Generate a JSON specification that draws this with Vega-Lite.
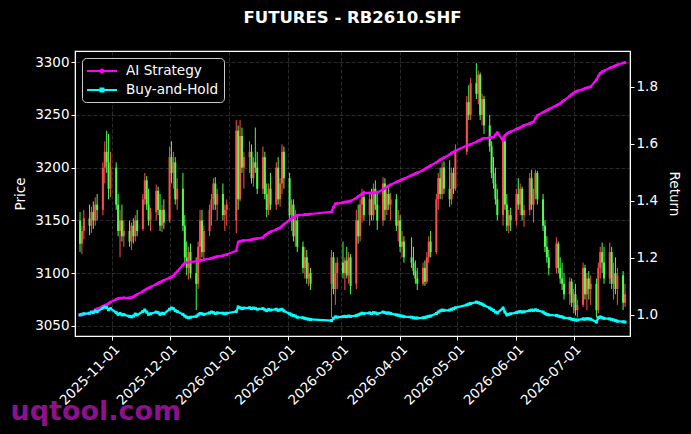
{
"$schema":"https://vega.github.io/schema/vega-lite/v6.json",
"width":555,"height":285,
"autosize":{"type":"none"},
"padding":{"left":75,"top":51,"right":61,"bottom":98},
"background":"#000000",
"title":{"text":"FUTURES - RB2610.SHF","color":"#ffffff","font":"DejaVu Sans","fontSize":16.5,"fontWeight":"bold","anchor":"middle","offset":25},
"config":{
 "view":{"stroke":"#ffffff","strokeWidth":1.2},
 "axis":{"labelColor":"#ffffff","tickColor":"#ffffff","domainColor":"#ffffff","titleColor":"#ffffff","labelFont":"DejaVu Sans","titleFont":"DejaVu Sans","labelFontSize":13.5,"titleFontSize":13.5,"titleFontWeight":"normal","tickSize":4,"gridColor":"#808080","gridOpacity":0.55,"gridDash":[4,2],"gridWidth":0.6}
},
"data":{"values":[
{"d":"2025-10-15","o":3150,"h":3158,"l":3120,"c":3128,"AI Strategy":1.000,"Buy-and-Hold":1.000},
{"d":"2025-10-16","o":3128,"h":3145,"l":3118,"c":3140,"AI Strategy":1.000,"Buy-and-Hold":1.002},
{"d":"2025-10-17","o":3140,"h":3160,"l":3132,"c":3152,"AI Strategy":1.002,"Buy-and-Hold":1.004},
{"d":"2025-10-20","o":3152,"h":3165,"l":3136,"c":3145,"AI Strategy":1.004,"Buy-and-Hold":1.006},
{"d":"2025-10-21","o":3145,"h":3163,"l":3138,"c":3158,"AI Strategy":1.008,"Buy-and-Hold":1.010},
{"d":"2025-10-22","o":3158,"h":3168,"l":3142,"c":3150,"AI Strategy":1.012,"Buy-and-Hold":1.008},
{"d":"2025-10-23","o":3150,"h":3172,"l":3145,"c":3165,"AI Strategy":1.018,"Buy-and-Hold":1.014},
{"d":"2025-10-24","o":3165,"h":3175,"l":3150,"c":3160,"AI Strategy":1.022,"Buy-and-Hold":1.012},
{"d":"2025-10-27","o":3160,"h":3205,"l":3155,"c":3200,"AI Strategy":1.030,"Buy-and-Hold":1.024},
{"d":"2025-10-28","o":3200,"h":3225,"l":3185,"c":3215,"AI Strategy":1.034,"Buy-and-Hold":1.028},
{"d":"2025-10-29","o":3215,"h":3235,"l":3195,"c":3205,"AI Strategy":1.036,"Buy-and-Hold":1.026},
{"d":"2025-10-30","o":3205,"h":3232,"l":3170,"c":3180,"AI Strategy":1.040,"Buy-and-Hold":1.018},
{"d":"2025-10-31","o":3180,"h":3215,"l":3172,"c":3200,"AI Strategy":1.045,"Buy-and-Hold":1.022},
{"d":"2025-11-03","o":3200,"h":3205,"l":3160,"c":3165,"AI Strategy":1.055,"Buy-and-Hold":1.008},
{"d":"2025-11-04","o":3165,"h":3175,"l":3135,"c":3140,"AI Strategy":1.058,"Buy-and-Hold":1.002},
{"d":"2025-11-05","o":3140,"h":3160,"l":3115,"c":3150,"AI Strategy":1.059,"Buy-and-Hold":1.005},
{"d":"2025-11-06","o":3150,"h":3165,"l":3130,"c":3135,"AI Strategy":1.059,"Buy-and-Hold":1.000},
{"d":"2025-11-07","o":3135,"h":3150,"l":3125,"c":3140,"AI Strategy":1.060,"Buy-and-Hold":1.001},
{"d":"2025-11-10","o":3140,"h":3150,"l":3125,"c":3130,"AI Strategy":1.060,"Buy-and-Hold":0.995},
{"d":"2025-11-11","o":3130,"h":3148,"l":3122,"c":3145,"AI Strategy":1.061,"Buy-and-Hold":0.993},
{"d":"2025-11-12","o":3145,"h":3152,"l":3128,"c":3135,"AI Strategy":1.064,"Buy-and-Hold":0.996},
{"d":"2025-11-13","o":3135,"h":3155,"l":3130,"c":3150,"AI Strategy":1.068,"Buy-and-Hold":1.003},
{"d":"2025-11-14","o":3150,"h":3160,"l":3135,"c":3140,"AI Strategy":1.072,"Buy-and-Hold":1.000},
{"d":"2025-11-17","o":3142,"h":3175,"l":3140,"c":3170,"AI Strategy":1.083,"Buy-and-Hold":1.012},
{"d":"2025-11-18","o":3170,"h":3195,"l":3165,"c":3188,"AI Strategy":1.087,"Buy-and-Hold":1.017},
{"d":"2025-11-19","o":3188,"h":3192,"l":3160,"c":3165,"AI Strategy":1.091,"Buy-and-Hold":1.010},
{"d":"2025-11-20","o":3165,"h":3180,"l":3145,"c":3150,"AI Strategy":1.094,"Buy-and-Hold":1.002},
{"d":"2025-11-21","o":3150,"h":3162,"l":3140,"c":3158,"AI Strategy":1.098,"Buy-and-Hold":1.004},
{"d":"2025-11-24","o":3158,"h":3184,"l":3150,"c":3178,"AI Strategy":1.108,"Buy-and-Hold":1.010},
{"d":"2025-11-25","o":3178,"h":3182,"l":3155,"c":3160,"AI Strategy":1.112,"Buy-and-Hold":1.008},
{"d":"2025-11-26","o":3160,"h":3175,"l":3140,"c":3145,"AI Strategy":1.115,"Buy-and-Hold":1.002},
{"d":"2025-11-27","o":3145,"h":3165,"l":3139,"c":3160,"AI Strategy":1.118,"Buy-and-Hold":1.006},
{"d":"2025-11-28","o":3160,"h":3170,"l":3142,"c":3148,"AI Strategy":1.122,"Buy-and-Hold":1.004},
{"d":"2025-12-01","o":3150,"h":3220,"l":3148,"c":3210,"AI Strategy":1.130,"Buy-and-Hold":1.020},
{"d":"2025-12-02","o":3210,"h":3225,"l":3185,"c":3195,"AI Strategy":1.133,"Buy-and-Hold":1.024},
{"d":"2025-12-03","o":3195,"h":3215,"l":3180,"c":3205,"AI Strategy":1.137,"Buy-and-Hold":1.022},
{"d":"2025-12-04","o":3205,"h":3210,"l":3165,"c":3170,"AI Strategy":1.145,"Buy-and-Hold":1.015},
{"d":"2025-12-05","o":3170,"h":3190,"l":3160,"c":3180,"AI Strategy":1.152,"Buy-and-Hold":1.012},
{"d":"2025-12-08","o":3180,"h":3195,"l":3140,"c":3145,"AI Strategy":1.175,"Buy-and-Hold":1.002},
{"d":"2025-12-09","o":3145,"h":3155,"l":3110,"c":3115,"AI Strategy":1.182,"Buy-and-Hold":0.996},
{"d":"2025-12-10","o":3115,"h":3130,"l":3098,"c":3105,"AI Strategy":1.184,"Buy-and-Hold":0.992},
{"d":"2025-12-11","o":3105,"h":3125,"l":3094,"c":3120,"AI Strategy":1.185,"Buy-and-Hold":0.990},
{"d":"2025-12-12","o":3120,"h":3128,"l":3095,"c":3100,"AI Strategy":1.186,"Buy-and-Hold":0.992},
{"d":"2025-12-15","o":3100,"h":3115,"l":3065,"c":3090,"AI Strategy":1.188,"Buy-and-Hold":0.995},
{"d":"2025-12-16","o":3090,"h":3130,"l":3085,"c":3125,"AI Strategy":1.190,"Buy-and-Hold":1.000},
{"d":"2025-12-17","o":3125,"h":3160,"l":3110,"c":3150,"AI Strategy":1.191,"Buy-and-Hold":1.005},
{"d":"2025-12-18","o":3150,"h":3160,"l":3115,"c":3120,"AI Strategy":1.192,"Buy-and-Hold":1.004},
{"d":"2025-12-19","o":3120,"h":3145,"l":3112,"c":3140,"AI Strategy":1.194,"Buy-and-Hold":1.002},
{"d":"2025-12-22","o":3140,"h":3165,"l":3135,"c":3160,"AI Strategy":1.197,"Buy-and-Hold":1.007},
{"d":"2025-12-23","o":3160,"h":3175,"l":3145,"c":3170,"AI Strategy":1.199,"Buy-and-Hold":1.010},
{"d":"2025-12-24","o":3170,"h":3190,"l":3160,"c":3185,"AI Strategy":1.201,"Buy-and-Hold":1.008},
{"d":"2025-12-25","o":3185,"h":3191,"l":3160,"c":3165,"AI Strategy":1.203,"Buy-and-Hold":1.005},
{"d":"2025-12-26","o":3165,"h":3180,"l":3150,"c":3175,"AI Strategy":1.205,"Buy-and-Hold":1.007},
{"d":"2025-12-29","o":3175,"h":3185,"l":3150,"c":3155,"AI Strategy":1.208,"Buy-and-Hold":1.006},
{"d":"2025-12-30","o":3155,"h":3165,"l":3140,"c":3160,"AI Strategy":1.210,"Buy-and-Hold":1.004},
{"d":"2025-12-31","o":3160,"h":3170,"l":3145,"c":3165,"AI Strategy":1.212,"Buy-and-Hold":1.006},
{"d":"2026-01-05","o":3150,"h":3245,"l":3138,"c":3235,"AI Strategy":1.225,"Buy-and-Hold":1.012},
{"d":"2026-01-06","o":3235,"h":3240,"l":3160,"c":3170,"AI Strategy":1.256,"Buy-and-Hold":1.028},
{"d":"2026-01-07","o":3170,"h":3245,"l":3168,"c":3230,"AI Strategy":1.258,"Buy-and-Hold":1.025},
{"d":"2026-01-08","o":3230,"h":3238,"l":3195,"c":3200,"AI Strategy":1.260,"Buy-and-Hold":1.022},
{"d":"2026-01-09","o":3200,"h":3215,"l":3180,"c":3210,"AI Strategy":1.261,"Buy-and-Hold":1.024},
{"d":"2026-01-12","o":3210,"h":3225,"l":3195,"c":3215,"AI Strategy":1.263,"Buy-and-Hold":1.025},
{"d":"2026-01-13","o":3215,"h":3222,"l":3185,"c":3190,"AI Strategy":1.264,"Buy-and-Hold":1.022},
{"d":"2026-01-14","o":3190,"h":3210,"l":3182,"c":3205,"AI Strategy":1.266,"Buy-and-Hold":1.024},
{"d":"2026-01-15","o":3205,"h":3238,"l":3195,"c":3200,"AI Strategy":1.267,"Buy-and-Hold":1.023},
{"d":"2026-01-16","o":3200,"h":3215,"l":3175,"c":3180,"AI Strategy":1.268,"Buy-and-Hold":1.020},
{"d":"2026-01-19","o":3180,"h":3220,"l":3175,"c":3210,"AI Strategy":1.272,"Buy-and-Hold":1.022},
{"d":"2026-01-20","o":3210,"h":3215,"l":3170,"c":3175,"AI Strategy":1.279,"Buy-and-Hold":1.018},
{"d":"2026-01-21","o":3175,"h":3185,"l":3153,"c":3160,"AI Strategy":1.283,"Buy-and-Hold":1.015},
{"d":"2026-01-22","o":3160,"h":3185,"l":3155,"c":3180,"AI Strategy":1.288,"Buy-and-Hold":1.019},
{"d":"2026-01-23","o":3180,"h":3195,"l":3160,"c":3165,"AI Strategy":1.292,"Buy-and-Hold":1.017},
{"d":"2026-01-26","o":3165,"h":3205,"l":3160,"c":3200,"AI Strategy":1.300,"Buy-and-Hold":1.020},
{"d":"2026-01-27","o":3200,"h":3210,"l":3165,"c":3170,"AI Strategy":1.303,"Buy-and-Hold":1.016},
{"d":"2026-01-28","o":3170,"h":3190,"l":3163,"c":3185,"AI Strategy":1.306,"Buy-and-Hold":1.018},
{"d":"2026-01-29","o":3185,"h":3222,"l":3175,"c":3215,"AI Strategy":1.312,"Buy-and-Hold":1.020},
{"d":"2026-01-30","o":3215,"h":3220,"l":3180,"c":3190,"AI Strategy":1.318,"Buy-and-Hold":1.014},
{"d":"2026-02-02","o":3190,"h":3195,"l":3150,"c":3155,"AI Strategy":1.333,"Buy-and-Hold":1.004},
{"d":"2026-02-03","o":3155,"h":3170,"l":3140,"c":3165,"AI Strategy":1.337,"Buy-and-Hold":1.000},
{"d":"2026-02-04","o":3165,"h":3170,"l":3130,"c":3135,"AI Strategy":1.342,"Buy-and-Hold":0.998},
{"d":"2026-02-05","o":3135,"h":3160,"l":3125,"c":3150,"AI Strategy":1.347,"Buy-and-Hold":0.996},
{"d":"2026-02-06","o":3150,"h":3155,"l":3120,"c":3125,"AI Strategy":1.350,"Buy-and-Hold":0.992},
{"d":"2026-02-09","o":3125,"h":3130,"l":3100,"c":3105,"AI Strategy":1.351,"Buy-and-Hold":0.990},
{"d":"2026-02-10","o":3105,"h":3125,"l":3095,"c":3115,"AI Strategy":1.352,"Buy-and-Hold":0.988},
{"d":"2026-02-11","o":3115,"h":3122,"l":3090,"c":3095,"AI Strategy":1.352,"Buy-and-Hold":0.986},
{"d":"2026-02-12","o":3095,"h":3110,"l":3088,"c":3100,"AI Strategy":1.353,"Buy-and-Hold":0.985},
{"d":"2026-02-13","o":3100,"h":3105,"l":3084,"c":3090,"AI Strategy":1.354,"Buy-and-Hold":0.984},
{"d":"2026-02-24","o":3090,"h":3122,"l":3058,"c":3115,"AI Strategy":1.362,"Buy-and-Hold":0.980},
{"d":"2026-02-25","o":3115,"h":3120,"l":3080,"c":3085,"AI Strategy":1.378,"Buy-and-Hold":0.988},
{"d":"2026-02-26","o":3085,"h":3110,"l":3070,"c":3100,"AI Strategy":1.390,"Buy-and-Hold":0.993},
{"d":"2026-02-27","o":3100,"h":3115,"l":3085,"c":3110,"AI Strategy":1.391,"Buy-and-Hold":0.992},
{"d":"2026-03-02","o":3110,"h":3130,"l":3095,"c":3100,"AI Strategy":1.394,"Buy-and-Hold":0.994},
{"d":"2026-03-03","o":3100,"h":3115,"l":3084,"c":3112,"AI Strategy":1.396,"Buy-and-Hold":0.995},
{"d":"2026-03-04","o":3112,"h":3125,"l":3095,"c":3098,"AI Strategy":1.397,"Buy-and-Hold":0.994},
{"d":"2026-03-05","o":3098,"h":3120,"l":3090,"c":3115,"AI Strategy":1.398,"Buy-and-Hold":0.996},
{"d":"2026-03-06","o":3115,"h":3118,"l":3080,"c":3088,"AI Strategy":1.400,"Buy-and-Hold":0.995},
{"d":"2026-03-09","o":3090,"h":3160,"l":3085,"c":3150,"AI Strategy":1.410,"Buy-and-Hold":0.998},
{"d":"2026-03-10","o":3150,"h":3165,"l":3128,"c":3135,"AI Strategy":1.416,"Buy-and-Hold":1.000},
{"d":"2026-03-11","o":3135,"h":3170,"l":3130,"c":3165,"AI Strategy":1.420,"Buy-and-Hold":1.003},
{"d":"2026-03-12","o":3165,"h":3180,"l":3148,"c":3172,"AI Strategy":1.425,"Buy-and-Hold":1.006},
{"d":"2026-03-13","o":3172,"h":3178,"l":3150,"c":3155,"AI Strategy":1.428,"Buy-and-Hold":1.005},
{"d":"2026-03-16","o":3155,"h":3175,"l":3145,"c":3170,"AI Strategy":1.428,"Buy-and-Hold":1.007},
{"d":"2026-03-17","o":3170,"h":3180,"l":3150,"c":3155,"AI Strategy":1.428,"Buy-and-Hold":1.005},
{"d":"2026-03-18","o":3155,"h":3185,"l":3150,"c":3180,"AI Strategy":1.428,"Buy-and-Hold":1.008},
{"d":"2026-03-19","o":3180,"h":3188,"l":3160,"c":3165,"AI Strategy":1.429,"Buy-and-Hold":1.007},
{"d":"2026-03-20","o":3165,"h":3175,"l":3141,"c":3150,"AI Strategy":1.430,"Buy-and-Hold":1.004},
{"d":"2026-03-23","o":3150,"h":3191,"l":3145,"c":3185,"AI Strategy":1.440,"Buy-and-Hold":1.010},
{"d":"2026-03-24","o":3185,"h":3190,"l":3150,"c":3160,"AI Strategy":1.444,"Buy-and-Hold":1.008},
{"d":"2026-03-25","o":3160,"h":3180,"l":3155,"c":3175,"AI Strategy":1.449,"Buy-and-Hold":1.006},
{"d":"2026-03-26","o":3175,"h":3182,"l":3160,"c":3165,"AI Strategy":1.453,"Buy-and-Hold":1.007},
{"d":"2026-03-27","o":3165,"h":3176,"l":3150,"c":3170,"AI Strategy":1.457,"Buy-and-Hold":1.005},
{"d":"2026-03-30","o":3170,"h":3175,"l":3140,"c":3145,"AI Strategy":1.466,"Buy-and-Hold":1.000},
{"d":"2026-03-31","o":3145,"h":3160,"l":3130,"c":3150,"AI Strategy":1.469,"Buy-and-Hold":0.999},
{"d":"2026-04-01","o":3150,"h":3155,"l":3120,"c":3125,"AI Strategy":1.472,"Buy-and-Hold":0.997},
{"d":"2026-04-02","o":3125,"h":3140,"l":3115,"c":3130,"AI Strategy":1.475,"Buy-and-Hold":0.996},
{"d":"2026-04-03","o":3130,"h":3135,"l":3110,"c":3115,"AI Strategy":1.478,"Buy-and-Hold":0.994},
{"d":"2026-04-07","o":3115,"h":3134,"l":3105,"c":3110,"AI Strategy":1.490,"Buy-and-Hold":0.992},
{"d":"2026-04-08","o":3110,"h":3125,"l":3098,"c":3102,"AI Strategy":1.493,"Buy-and-Hold":0.990},
{"d":"2026-04-09","o":3102,"h":3112,"l":3090,"c":3095,"AI Strategy":1.496,"Buy-and-Hold":0.989},
{"d":"2026-04-10","o":3095,"h":3105,"l":3084,"c":3090,"AI Strategy":1.499,"Buy-and-Hold":0.989},
{"d":"2026-04-13","o":3090,"h":3110,"l":3088,"c":3105,"AI Strategy":1.508,"Buy-and-Hold":0.990},
{"d":"2026-04-14","o":3105,"h":3112,"l":3088,"c":3092,"AI Strategy":1.512,"Buy-and-Hold":0.991},
{"d":"2026-04-15","o":3092,"h":3120,"l":3090,"c":3115,"AI Strategy":1.516,"Buy-and-Hold":0.993},
{"d":"2026-04-16","o":3115,"h":3135,"l":3110,"c":3130,"AI Strategy":1.520,"Buy-and-Hold":0.995},
{"d":"2026-04-17","o":3130,"h":3140,"l":3115,"c":3120,"AI Strategy":1.524,"Buy-and-Hold":0.996},
{"d":"2026-04-20","o":3120,"h":3175,"l":3118,"c":3170,"AI Strategy":1.535,"Buy-and-Hold":1.005},
{"d":"2026-04-21","o":3170,"h":3195,"l":3160,"c":3190,"AI Strategy":1.540,"Buy-and-Hold":1.010},
{"d":"2026-04-22","o":3190,"h":3200,"l":3170,"c":3175,"AI Strategy":1.545,"Buy-and-Hold":1.014},
{"d":"2026-04-23","o":3175,"h":3205,"l":3170,"c":3200,"AI Strategy":1.548,"Buy-and-Hold":1.017},
{"d":"2026-04-24","o":3200,"h":3206,"l":3175,"c":3180,"AI Strategy":1.552,"Buy-and-Hold":1.016},
{"d":"2026-04-27","o":3180,"h":3207,"l":3163,"c":3170,"AI Strategy":1.563,"Buy-and-Hold":1.017},
{"d":"2026-04-28","o":3170,"h":3200,"l":3165,"c":3195,"AI Strategy":1.568,"Buy-and-Hold":1.020},
{"d":"2026-04-29","o":3195,"h":3200,"l":3175,"c":3180,"AI Strategy":1.572,"Buy-and-Hold":1.022},
{"d":"2026-04-30","o":3180,"h":3222,"l":3178,"c":3215,"AI Strategy":1.576,"Buy-and-Hold":1.025},
{"d":"2026-05-06","o":3215,"h":3268,"l":3212,"c":3262,"AI Strategy":1.594,"Buy-and-Hold":1.035},
{"d":"2026-05-07","o":3262,"h":3278,"l":3245,"c":3250,"AI Strategy":1.596,"Buy-and-Hold":1.038},
{"d":"2026-05-08","o":3250,"h":3285,"l":3245,"c":3280,"AI Strategy":1.599,"Buy-and-Hold":1.040},
{"d":"2026-05-11","o":3280,"h":3299,"l":3265,"c":3270,"AI Strategy":1.607,"Buy-and-Hold":1.045},
{"d":"2026-05-12","o":3270,"h":3292,"l":3260,"c":3288,"AI Strategy":1.611,"Buy-and-Hold":1.043},
{"d":"2026-05-13","o":3288,"h":3290,"l":3245,"c":3250,"AI Strategy":1.614,"Buy-and-Hold":1.040},
{"d":"2026-05-14","o":3250,"h":3270,"l":3240,"c":3265,"AI Strategy":1.618,"Buy-and-Hold":1.038},
{"d":"2026-05-15","o":3265,"h":3268,"l":3232,"c":3240,"AI Strategy":1.620,"Buy-and-Hold":1.034},
{"d":"2026-05-18","o":3240,"h":3250,"l":3215,"c":3220,"AI Strategy":1.622,"Buy-and-Hold":1.024},
{"d":"2026-05-19","o":3220,"h":3225,"l":3190,"c":3195,"AI Strategy":1.623,"Buy-and-Hold":1.020},
{"d":"2026-05-20","o":3195,"h":3210,"l":3180,"c":3185,"AI Strategy":1.624,"Buy-and-Hold":1.016},
{"d":"2026-05-21","o":3185,"h":3200,"l":3165,"c":3170,"AI Strategy":1.632,"Buy-and-Hold":1.010},
{"d":"2026-05-22","o":3170,"h":3180,"l":3150,"c":3155,"AI Strategy":1.640,"Buy-and-Hold":1.007},
{"d":"2026-05-25","o":3155,"h":3230,"l":3145,"c":3225,"AI Strategy":1.612,"Buy-and-Hold":1.024},
{"d":"2026-05-26","o":3225,"h":3228,"l":3160,"c":3165,"AI Strategy":1.630,"Buy-and-Hold":1.010},
{"d":"2026-05-27","o":3165,"h":3175,"l":3140,"c":3145,"AI Strategy":1.636,"Buy-and-Hold":1.000},
{"d":"2026-05-28","o":3145,"h":3160,"l":3138,"c":3155,"AI Strategy":1.640,"Buy-and-Hold":1.002},
{"d":"2026-05-29","o":3155,"h":3162,"l":3140,"c":3150,"AI Strategy":1.643,"Buy-and-Hold":1.004},
{"d":"2026-06-01","o":3150,"h":3180,"l":3145,"c":3175,"AI Strategy":1.652,"Buy-and-Hold":1.008},
{"d":"2026-06-02","o":3175,"h":3190,"l":3160,"c":3165,"AI Strategy":1.655,"Buy-and-Hold":1.010},
{"d":"2026-06-03","o":3165,"h":3185,"l":3155,"c":3180,"AI Strategy":1.658,"Buy-and-Hold":1.012},
{"d":"2026-06-04","o":3180,"h":3182,"l":3150,"c":3155,"AI Strategy":1.662,"Buy-and-Hold":1.010},
{"d":"2026-06-05","o":3155,"h":3165,"l":3144,"c":3160,"AI Strategy":1.665,"Buy-and-Hold":1.011},
{"d":"2026-06-08","o":3160,"h":3195,"l":3155,"c":3190,"AI Strategy":1.672,"Buy-and-Hold":1.015},
{"d":"2026-06-09","o":3190,"h":3198,"l":3160,"c":3165,"AI Strategy":1.675,"Buy-and-Hold":1.017},
{"d":"2026-06-10","o":3165,"h":3180,"l":3148,"c":3175,"AI Strategy":1.678,"Buy-and-Hold":1.016},
{"d":"2026-06-11","o":3175,"h":3198,"l":3170,"c":3195,"AI Strategy":1.690,"Buy-and-Hold":1.018},
{"d":"2026-06-12","o":3195,"h":3197,"l":3165,"c":3170,"AI Strategy":1.700,"Buy-and-Hold":1.016},
{"d":"2026-06-15","o":3170,"h":3175,"l":3140,"c":3145,"AI Strategy":1.711,"Buy-and-Hold":1.010},
{"d":"2026-06-16","o":3145,"h":3150,"l":3120,"c":3125,"AI Strategy":1.714,"Buy-and-Hold":1.005},
{"d":"2026-06-17","o":3125,"h":3135,"l":3110,"c":3115,"AI Strategy":1.718,"Buy-and-Hold":1.002},
{"d":"2026-06-18","o":3115,"h":3122,"l":3098,"c":3105,"AI Strategy":1.722,"Buy-and-Hold":1.000},
{"d":"2026-06-22","o":3105,"h":3134,"l":3100,"c":3128,"AI Strategy":1.735,"Buy-and-Hold":0.998},
{"d":"2026-06-23","o":3128,"h":3130,"l":3100,"c":3105,"AI Strategy":1.738,"Buy-and-Hold":0.996},
{"d":"2026-06-24","o":3105,"h":3115,"l":3090,"c":3095,"AI Strategy":1.742,"Buy-and-Hold":0.994},
{"d":"2026-06-25","o":3095,"h":3110,"l":3084,"c":3090,"AI Strategy":1.748,"Buy-and-Hold":0.993},
{"d":"2026-06-26","o":3090,"h":3100,"l":3075,"c":3080,"AI Strategy":1.753,"Buy-and-Hold":0.990},
{"d":"2026-06-29","o":3080,"h":3096,"l":3070,"c":3092,"AI Strategy":1.768,"Buy-and-Hold":0.988},
{"d":"2026-06-30","o":3092,"h":3095,"l":3068,"c":3072,"AI Strategy":1.774,"Buy-and-Hold":0.985},
{"d":"2026-07-01","o":3072,"h":3085,"l":3062,"c":3080,"AI Strategy":1.779,"Buy-and-Hold":0.984},
{"d":"2026-07-02","o":3080,"h":3090,"l":3060,"c":3065,"AI Strategy":1.783,"Buy-and-Hold":0.982},
{"d":"2026-07-03","o":3065,"h":3075,"l":3058,"c":3070,"AI Strategy":1.786,"Buy-and-Hold":0.982},
{"d":"2026-07-06","o":3070,"h":3110,"l":3068,"c":3105,"AI Strategy":1.792,"Buy-and-Hold":0.986},
{"d":"2026-07-07","o":3105,"h":3108,"l":3075,"c":3080,"AI Strategy":1.795,"Buy-and-Hold":0.985},
{"d":"2026-07-08","o":3080,"h":3100,"l":3065,"c":3095,"AI Strategy":1.797,"Buy-and-Hold":0.987},
{"d":"2026-07-09","o":3095,"h":3102,"l":3075,"c":3085,"AI Strategy":1.799,"Buy-and-Hold":0.986},
{"d":"2026-07-10","o":3085,"h":3098,"l":3070,"c":3090,"AI Strategy":1.801,"Buy-and-Hold":0.985},
{"d":"2026-07-13","o":3090,"h":3095,"l":3058,"c":3065,"AI Strategy":1.825,"Buy-and-Hold":0.975},
{"d":"2026-07-14","o":3065,"h":3110,"l":3062,"c":3105,"AI Strategy":1.838,"Buy-and-Hold":0.990},
{"d":"2026-07-15","o":3105,"h":3125,"l":3095,"c":3120,"AI Strategy":1.848,"Buy-and-Hold":0.993},
{"d":"2026-07-16","o":3120,"h":3129,"l":3100,"c":3110,"AI Strategy":1.853,"Buy-and-Hold":0.990},
{"d":"2026-07-17","o":3110,"h":3125,"l":3090,"c":3095,"AI Strategy":1.857,"Buy-and-Hold":0.988},
{"d":"2026-07-20","o":3095,"h":3129,"l":3090,"c":3120,"AI Strategy":1.866,"Buy-and-Hold":0.986},
{"d":"2026-07-21","o":3120,"h":3125,"l":3085,"c":3090,"AI Strategy":1.869,"Buy-and-Hold":0.984},
{"d":"2026-07-22","o":3090,"h":3110,"l":3075,"c":3100,"AI Strategy":1.872,"Buy-and-Hold":0.982},
{"d":"2026-07-23","o":3100,"h":3115,"l":3080,"c":3085,"AI Strategy":1.875,"Buy-and-Hold":0.980},
{"d":"2026-07-24","o":3085,"h":3105,"l":3070,"c":3098,"AI Strategy":1.878,"Buy-and-Hold":0.978},
{"d":"2026-07-27","o":3098,"h":3102,"l":3065,"c":3072,"AI Strategy":1.884,"Buy-and-Hold":0.976},
{"d":"2026-07-28","o":3072,"h":3090,"l":3068,"c":3080,"AI Strategy":1.886,"Buy-and-Hold":0.975}
]},
"layer":[
 {"layer":[
  {"mark":{"type":"rule","strokeWidth":1,"clip":true},
   "encoding":{
    "x":{"field":"d","type":"temporal",
     "scale":{"type":"utc","domain":[{"year":2025,"month":10,"date":15,"utc":true},{"year":2026,"month":7,"date":28,"utc":true}]},
     "axis":{"values":[{"year":2025,"month":11,"date":1,"utc":true},{"year":2025,"month":12,"date":1,"utc":true},{"year":2026,"month":1,"date":1,"utc":true},{"year":2026,"month":2,"date":1,"utc":true},{"year":2026,"month":3,"date":1,"utc":true},{"year":2026,"month":4,"date":1,"utc":true},{"year":2026,"month":5,"date":1,"utc":true},{"year":2026,"month":6,"date":1,"utc":true},{"year":2026,"month":7,"date":1,"utc":true}],
      "format":"%Y-%m-%d","labelAngle":-45,"labelOverlap":false,"labelBound":false,"labelFlush":false,"grid":true,
      "title":"uqtool.com","titleColor":"#8b128b","titleFontSize":27,"titleFontWeight":"bold","titleAnchor":"start","titleAlign":"left","titleAngle":0,"titleBaseline":"alphabetic","titleX":-65,"titleY":83}},
    "y":{"field":"l","type":"quantitative","scale":{"domain":[3040.5,3310.5],"nice":false,"zero":false},
     "axis":{"title":"Price","titlePadding":7,"values":[3050,3100,3150,3200,3250,3300],"format":"d","grid":true}},
    "y2":{"field":"h"},
    "color":{"condition":{"test":"datum.c >= datum.o","value":"#ff4d4d"},"value":"#4dff4d"}}},
  {"mark":{"type":"bar","width":2,"clip":true},
   "encoding":{
    "x":{"field":"d","type":"temporal"},
    "y":{"field":"o","type":"quantitative"},
    "y2":{"field":"c"},
    "color":{"condition":{"test":"datum.c >= datum.o","value":"#ff4d4d"},"value":"#4dff4d"}}}
 ]},
 {"transform":[{"fold":["AI Strategy","Buy-and-Hold"],"as":["series","ret"]}],
  "layer":[
   {"mark":{"type":"line","strokeWidth":2.2},
    "encoding":{
     "x":{"field":"d","type":"temporal"},
     "y":{"field":"ret","type":"quantitative","scale":{"domain":[0.926,1.926],"nice":false,"zero":false},
      "axis":{"orient":"right","title":"Return","titlePadding":9,"values":[1.0,1.2,1.4,1.6,1.8],"format":".1f","grid":false}},
     "color":{"field":"series","type":"nominal","scale":{"domain":["AI Strategy","Buy-and-Hold"],"range":["#ff00ff","#00ffff"]},
      "legend":{"title":null,"orient":"top-left","offset":7,"fillColor":"#000000","strokeColor":"#cccccc","cornerRadius":4,"padding":5,"labelColor":"#ffffff","labelFont":"DejaVu Sans","labelFontSize":13.6,"labelOffset":23,"rowPadding":4,"symbolSize":256,
       "encode":{"symbols":{"update":{
        "shape":{"signal":"datum.value === 'AI Strategy' ? 'M-1,-0.13H2.75V0.13H-1Z M0.56,0A0.31,0.31 0 1,1 1.18,0A0.31,0.31 0 1,1 0.56,0Z' : 'M-1,-0.13H2.75V0.13H-1Z M0.56,-0.31H1.18V0.31H0.56Z'"},
        "fill":{"signal":"datum.value === 'AI Strategy' ? '#ff00ff' : '#00ffff'"},
        "stroke":{"value":"transparent"},
        "strokeWidth":{"value":0},
        "opacity":{"value":1}}}}}}}},
   {"mark":{"type":"point","filled":true,"size":9,"opacity":1},
    "encoding":{
     "x":{"field":"d","type":"temporal"},
     "y":{"field":"ret","type":"quantitative"},
     "color":{"field":"series","type":"nominal"},
     "shape":{"condition":{"test":"datum.series === 'Buy-and-Hold'","value":"square"},"value":"circle"}}}
  ]}
],
"resolve":{"scale":{"y":"independent"}}
}
